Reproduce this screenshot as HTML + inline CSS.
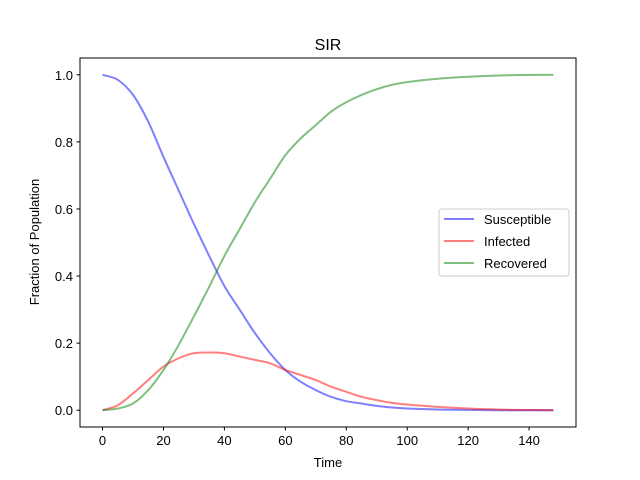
<!DOCTYPE html>
<html><head><meta charset="utf-8"><style>
html,body{margin:0;padding:0;background:#fff;}
svg{display:block;font-family:"Liberation Sans","DejaVu Sans",sans-serif;}
</style></head><body>
<svg id="chart" width="640" height="480" xmlns="http://www.w3.org/2000/svg">
<rect width="640" height="480" fill="#fff"/>
<text x="328" y="50" text-anchor="middle" font-size="16">SIR</text>
<g id="plot"></g>
<rect x="80" y="58" width="496" height="369" fill="none" stroke="#000" stroke-width="1"/>
<g id="ticks"></g>
<text x="328" y="467" text-anchor="middle" font-size="13">Time</text>
<text transform="translate(39,242) rotate(-90)" text-anchor="middle" font-size="13">Fraction of Population</text>
<g>
<rect x="439" y="209" width="130" height="67" rx="3" fill="#fff" fill-opacity="0.8" stroke="#ccc"/>
<line x1="444" y1="219" x2="474" y2="219" stroke="#0000ff" stroke-opacity="0.5" stroke-width="2"/>
<text x="484" y="224" font-size="13">Susceptible</text>
<line x1="444" y1="241" x2="474" y2="241" stroke="#ff0000" stroke-opacity="0.5" stroke-width="2"/>
<text x="484" y="246" font-size="13">Infected</text>
<line x1="444" y1="263" x2="474" y2="263" stroke="#008000" stroke-opacity="0.5" stroke-width="2"/>
<text x="484" y="268" font-size="13">Recovered</text>
</g>
</svg>
<script>
const times=[0,5,10,15,20,25,30,35,40,45,50,55,60,65,70,75,80,85,90,95,100,110,120,130,148];
const susceptible=[1.0,0.985,0.94,0.86,0.755,0.655,0.555,0.46,0.37,0.30,0.23,0.17,0.12,0.085,0.06,0.04,0.027,0.02,0.013,0.008,0.005,0.002,0.001,0.0,0.0];
const infected=[0,0.015,0.05,0.09,0.13,0.155,0.17,0.172,0.17,0.16,0.15,0.14,0.12,0.105,0.09,0.07,0.055,0.04,0.03,0.022,0.017,0.01,0.005,0.002,0.0];
const recovered=[0,0.005,0.02,0.06,0.12,0.195,0.28,0.368,0.46,0.54,0.62,0.69,0.76,0.81,0.85,0.89,0.918,0.94,0.957,0.97,0.978,0.988,0.994,0.998,1.0];
const xTicks=[0,20,40,60,80,100,120,140];
const yTicks=[0.0,0.2,0.4,0.6,0.8,1.0];
const NS="http://www.w3.org/2000/svg";
const X=v=>80+(v+7.4)*496/162.8;
const Y=v=>427-(v+0.05)*369/1.1;
const plot=document.getElementById('plot'),tk=document.getElementById('ticks');
function mk(tag,attrs,parent){const e=document.createElementNS(NS,tag);for(const k in attrs)e.setAttribute(k,attrs[k]);parent.appendChild(e);return e;}
function smoothPath(xs,ys){
 const n=xs.length,d=[],m=[];
 for(let i=0;i<n-1;i++)d.push((ys[i+1]-ys[i])/(xs[i+1]-xs[i]));
 m[0]=d[0];m[n-1]=d[n-2];
 for(let i=1;i<n-1;i++)m[i]=(d[i-1]*d[i]<=0)?0:(d[i-1]+d[i])/2;
 for(let i=0;i<n-1;i++){if(d[i]===0){m[i]=0;m[i+1]=0;continue;}const a=m[i]/d[i],b=m[i+1]/d[i],s=a*a+b*b;if(s>9){const t=3/Math.sqrt(s);m[i]=t*a*d[i];m[i+1]=t*b*d[i];}}
 let p='M'+xs[0]+','+ys[0];
 for(let i=0;i<n-1;i++){const h=(xs[i+1]-xs[i])/3;p+=' C'+(xs[i]+h)+','+(ys[i]+m[i]*h)+' '+(xs[i+1]-h)+','+(ys[i+1]-m[i+1]*h)+' '+xs[i+1]+','+ys[i+1];}
 return p;
}
[[susceptible,'#0000ff','susceptible-line'],[infected,'#ff0000','infected-line'],[recovered,'#008000','recovered-line']].forEach(([s,c,n])=>{
 const p=mk('path',{d:smoothPath(times.map(X),s.map(Y)),fill:'none',stroke:c,'stroke-opacity':0.5,'stroke-width':2,'stroke-linejoin':'round'},plot);
 
 
});
xTicks.forEach(t=>{
 mk('line',{x1:X(t),x2:X(t),y1:427,y2:430.5,stroke:'#000'},tk);
 const e=mk('text',{x:X(t),y:445,'text-anchor':'middle','font-size':13},tk);e.textContent=t;
 
 
});
yTicks.forEach(t=>{
 mk('line',{x1:76.5,x2:80,y1:Y(t),y2:Y(t),stroke:'#000'},tk);
 const e=mk('text',{x:73,y:Y(t)+5,'text-anchor':'end','font-size':13},tk);e.textContent=t.toFixed(1);
 
 
});
</script>
</body></html>
